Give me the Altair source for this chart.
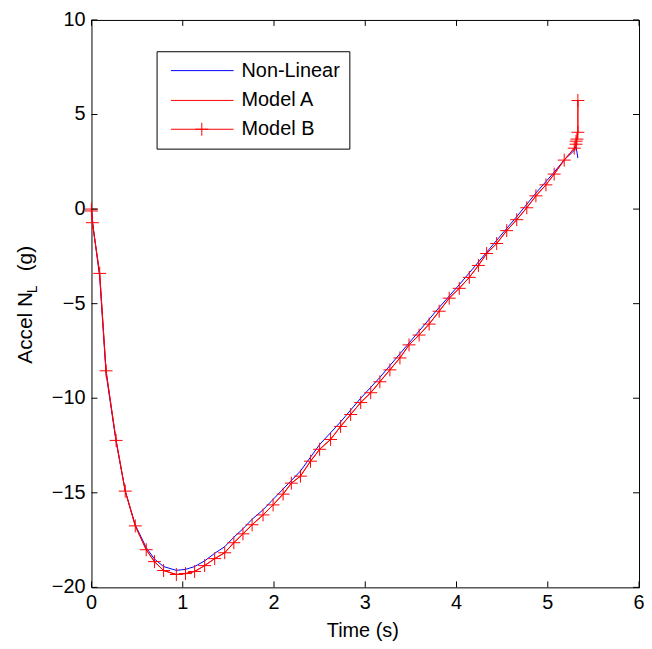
import altair as alt
import pandas as pd

# ---------------- data ----------------
x_ticks = [0, 1, 2, 3, 4, 5, 6]
y_ticks = [-20, -15, -10, -5, 0, 5, 10]

model_b_t = [0.00, 0.00, 0.01, 0.09, 0.16, 0.27, 0.37, 0.48, 0.60, 0.69,
             0.79, 0.93, 1.03, 1.13, 1.24, 1.35, 1.46, 1.56, 1.66, 1.76,
             1.88, 1.99, 2.10, 2.19, 2.29, 2.40, 2.50, 2.62, 2.73, 2.84,
             2.95, 3.06, 3.16, 3.27, 3.38, 3.48, 3.59, 3.70, 3.81, 3.92,
             4.03, 4.14, 4.24, 4.33, 4.44, 4.55, 4.66, 4.77, 4.87, 4.98,
             5.07, 5.18, 5.29, 5.31, 5.31, 5.32, 5.33, 5.33]
model_b_g = [0.00, -0.10, -0.72, -3.40, -8.55, -12.23, -14.91, -16.75, -18.01, -18.64,
             -19.11, -19.32, -19.27, -19.16, -18.85, -18.48, -18.17, -17.64, -17.17, -16.69,
             -16.17, -15.64, -15.07, -14.49, -14.12, -13.33, -12.70, -12.18, -11.49, -10.86,
             -10.23, -9.71, -9.13, -8.50, -7.87, -7.18, -6.66, -6.08, -5.40, -4.71,
             -4.19, -3.61, -2.98, -2.35, -1.82, -1.14, -0.56, 0.07, 0.70, 1.28,
             1.85, 2.59, 3.22, 3.43, 3.59, 3.70, 4.06, 5.74]

model_a_t = list(model_b_t)
model_a_g = list(model_b_g)

nonlin_t = [0.00, 0.02, 0.09, 0.16, 0.27, 0.37, 0.48, 0.60, 0.69, 0.79,
            0.93, 1.03, 1.13, 1.24, 1.35, 1.46, 1.56, 1.66, 1.76, 1.88,
            1.99, 2.10, 2.29, 2.50, 2.73, 2.95, 3.16, 3.38, 3.59, 3.81,
            4.03, 4.24, 4.44, 4.66, 4.87, 5.07, 5.18, 5.29, 5.31, 5.33]
nonlin_g = [0.00, -1.00, -3.60, -8.70, -12.30, -14.90, -16.70, -17.90, -18.50, -18.90,
            -19.10, -19.05, -18.90, -18.60, -18.20, -17.85, -17.35, -16.90, -16.40, -15.90,
            -15.35, -14.80, -13.85, -12.45, -11.25, -10.00, -8.90, -7.65, -6.45, -5.20,
            -4.00, -2.80, -1.65, -0.40, 0.85, 1.95, 2.60, 3.10, 3.30, 2.70]

legend_labels = ["Non-Linear", "Model A", "Model B"]

# ---------------- layout ----------------
W, H = 551, 571
FONT = "Liberation Sans"
FS = 20
BLUE = "#0000ff"
RED = "#ff0000"

xs = alt.Scale(domain=[0, 6], nice=False, zero=False)
ys = alt.Scale(domain=[-20, 10], nice=False, zero=False)

def series_df(t, g):
    return pd.DataFrame({"t": t, "g": g, "i": list(range(len(t)))})

nl_df = series_df(nonlin_t, nonlin_g)
a_df = series_df(model_a_t, model_a_g)
b_df = series_df(model_b_t, model_b_g)

X = alt.X("t:Q", scale=xs, axis=None)
Y = alt.Y("g:Q", scale=ys, axis=None)

nl_line = alt.Chart(nl_df).mark_line(color=BLUE, strokeWidth=1).encode(x=X, y=Y, order="i:Q")
a_line = alt.Chart(a_df).mark_line(color=RED, strokeWidth=1).encode(x=X, y=Y, order="i:Q")
b_line = alt.Chart(b_df).mark_line(color=RED, strokeWidth=1).encode(x=X, y=Y, order="i:Q")
PLUS = "M-1,0L1,0M0,-1L0,1"
b_pts = alt.Chart(b_df).mark_point(shape=PLUS, size=169, filled=False,
                                   stroke=RED, strokeWidth=1, opacity=1).encode(x=X, y=Y)

xt_df = pd.DataFrame({"t": x_ticks})
yt_df = pd.DataFrame({"g": y_ticks})

xt_bot = alt.Chart(xt_df).mark_rule(color="black", strokeWidth=1).encode(
    x=X, y=alt.value(H), y2=alt.value(H - 6))
xt_top = alt.Chart(xt_df).mark_rule(color="black", strokeWidth=1).encode(
    x=X, y=alt.value(0), y2=alt.value(6))
yt_left = alt.Chart(yt_df).mark_rule(color="black", strokeWidth=1).encode(
    y=Y, x=alt.value(0), x2=alt.value(6))
yt_right = alt.Chart(yt_df).mark_rule(color="black", strokeWidth=1).encode(
    y=Y, x=alt.value(W - 6), x2=alt.value(W))

xt_lab = alt.Chart(xt_df).mark_text(font=FONT, fontSize=FS, align="center",
                                    baseline="middle", color="black").encode(
    x=X, y=alt.value(H + 16), text=alt.Text("t:Q", format="d"))
yt_lab = alt.Chart(yt_df).mark_text(font=FONT, fontSize=FS, align="right",
                                    baseline="middle", color="black").encode(
    y=Y, x=alt.value(-6), text=alt.Text("g:Q", format="d"))

one = pd.DataFrame({"d": [0]})

def txt(s, x, y, fs=FS, angle=0, align="center", baseline="middle"):
    return alt.Chart(one).mark_text(font=FONT, fontSize=fs, angle=angle, align=align,
                                    baseline=baseline, color="black").encode(
        x=alt.value(x), y=alt.value(y), text=alt.value(s))

x_title = txt("Time (s)", 273, 615)
y_title1 = txt("Accel N", -60, 346, fs=21, angle=270, align="left", baseline="alphabetic")
y_title2 = txt("L", -55, 275, fs=14, angle=270, align="left", baseline="alphabetic")
y_title3 = txt("(g)", -60, 253, fs=21, angle=270, align="left", baseline="alphabetic")

# legend (drawn by hand)
LX0, LX1, LY0, LY1 = 66, 260, 32, 130
rows = [51, 81, 110]
leg_box = alt.Chart(one).mark_rect(fill="white", stroke="black", strokeWidth=1).encode(
    x=alt.value(LX0), x2=alt.value(LX1), y=alt.value(LY0), y2=alt.value(LY1))

def leg_line(y, color):
    return alt.Chart(one).mark_rule(color=color, strokeWidth=1).encode(
        x=alt.value(80), x2=alt.value(143), y=alt.value(y))

leg_layers = [leg_box,
              leg_line(rows[0], BLUE), leg_line(rows[1], RED), leg_line(rows[2], RED),
              alt.Chart(one).mark_point(shape=PLUS, size=169, filled=False, stroke=RED,
                                        strokeWidth=1, opacity=1).encode(
                  x=alt.value(111), y=alt.value(rows[2]))]
for lab, ry in zip(legend_labels, rows):
    leg_layers.append(txt(lab, 151, ry, align="left"))

chart = alt.layer(
    nl_line, a_line, b_line, b_pts,
    xt_bot, xt_top, yt_left, yt_right, xt_lab, yt_lab,
    x_title, y_title1, y_title2, y_title3,
    *leg_layers
).properties(
    width=W, height=H,
    autosize=alt.AutoSizeParams(type="none"),
    padding={"left": 84, "top": 10, "right": 5, "bottom": 60},
).configure_view(stroke="black", strokeWidth=1)

chart.save("out.html", embed_options={"renderer": "svg", "actions": False})
